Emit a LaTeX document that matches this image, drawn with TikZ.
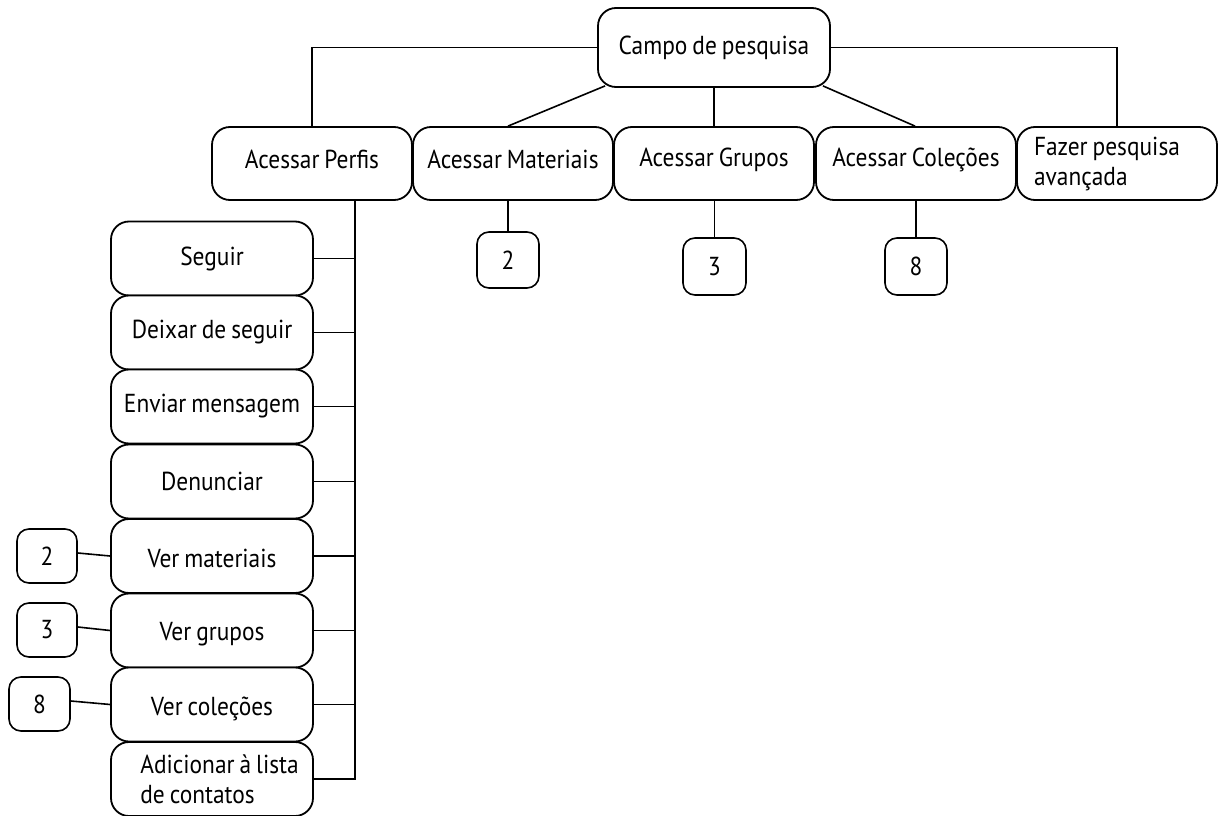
\documentclass[tikz,border=0pt]{standalone}
\usepackage{fontspec}
\setmainfont{PT Sans}[FakeStretch=0.9,WordSpace=0.8]
\usetikzlibrary{calc}
\newcommand\lift[2]{\raisebox{#1}[\height][\depth]{#2}}
\begin{document}
\begin{tikzpicture}[x=1pt,y=-1pt,
  box/.style={draw, line width=1.8pt, rounded corners=18pt, fill=white,
    minimum width=200pt, minimum height=73pt, inner sep=0pt,
    font=\fontsize{26}{30}\selectfont},
  item/.style={box, minimum width=202pt, minimum height=74pt},
  tag/.style={draw, line width=1.6pt, rounded corners=12pt, fill=white,
    minimum width=61pt, minimum height=55pt, inner sep=0pt,
    font=\fontsize{26}{28}\selectfont},
  link/.style={line width=1.6pt}]
\useasboundingbox (0,0) rectangle (1227,816);

% root and first level
\node[box, minimum width=232pt, minimum height=79pt] (campo) at (714,47.5) {Campo de pesquisa};
\node[box] (perfis)    at (312,163.5) {\lift{4pt}{Acessar Perfis}};
\node[box] (materiais) at (513,163.5) {\lift{4pt}{Acessar Materiais}};
\node[box] (grupos)    at (714,163.5) {\lift{4pt}{Acessar Grupos}};
\node[box] (colecoes)  at (916,163.5) {\lift{4pt}{Acessar Coleções}};
\node[box, align=left] (fazer) at (1117,163.5) {Fazer pesquisa\hspace*{20pt}\\avançada};

% references below the first level
\node[tag, minimum width=62pt, minimum height=56pt] (m2) at (508,260) {2};
\node[tag, minimum width=63pt, minimum height=57pt] (g3) at (714.5,266.5) {3};
\node[tag, minimum width=62pt, minimum height=57pt] (c8) at (916,266.5) {8};

% profile actions
\node[item] (seguir)    at (212,258.5) {Seguir};
\node[item] (deixar)    at (212,332.5) {Deixar de seguir};
\node[item] (enviar)    at (212,406.5) {Enviar mensagem};
\node[item] (denunciar) at (212,481.5) {Denunciar};
\node[item] (vermat)    at (212,556)   {\lift{-2pt}{Ver materiais}};
\node[item] (vergru)    at (212,630.5) {\lift{-4pt}{Ver grupos}};
\node[item] (vercol)    at (212,704.5) {\lift{-4pt}{Ver coleções}};
\node[item, align=left] (adicionar) at (212,779)
  {\hspace*{15pt}Adicionar à lista\\\hspace*{15pt}de contatos};

% references beside the profile actions
\node[tag, minimum width=60pt, minimum height=54pt] (l2) at (47,556) {2};
\node[tag, minimum width=60pt, minimum height=54pt] (l3) at (47,630) {3};
\node[tag, minimum width=61pt, minimum height=54pt] (l8) at (39.5,704) {8};

% connectors from the root
\draw[link] (campo.west) -| (perfis.north);
\draw[link] (campo.east) -| (fazer.north);
\draw[link] ($(campo.south west)+(8,-2)$) -- ([xshift=-5pt]materiais.north);
\draw[link] (campo.south) -- (grupos.north);
\draw[link] ($(campo.south east)+(-8,-2)$) -- ([xshift=-1pt]colecoes.north);

% connectors to the references
\draw[link] (m2.north |- materiais.south) -- (m2.north);
\draw[link] (g3.north |- grupos.south) -- (g3.north);
\draw[link] (c8.north |- colecoes.south) -- (c8.north);

% trunk under the profiles
\coordinate (trunk) at ([xshift=43pt]perfis.south);
\draw[link] (trunk) |- (adicionar.east);
\foreach \n in {seguir,deixar,enviar,denunciar,vermat,vergru,vercol}
  \draw[link] (\n.east) -- (\n.east -| trunk);

\draw[link] ([yshift=3pt]l2.east) -- (vermat.west);
\draw[link] ([yshift=3pt]l3.east) -- (vergru.west);
\draw[link] ([yshift=3pt]l8.east) -- (vercol.west);
\end{tikzpicture}
\end{document}
